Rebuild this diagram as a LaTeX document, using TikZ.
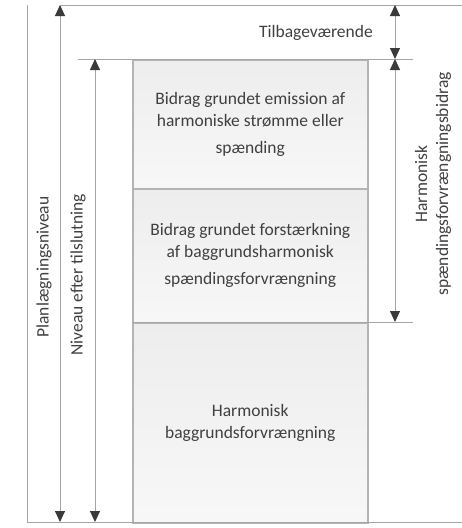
\documentclass[tikz,border=0pt]{standalone}
\usepackage{fontspec}
\setmainfont{Carlito}
\usetikzlibrary{arrows.meta}
\definecolor{txt}{HTML}{404040}
\definecolor{ln}{HTML}{A6A6A6}
\definecolor{bx}{HTML}{B4B4B4}
\definecolor{tip}{HTML}{3A3A3A}
\tikzset{
  lbl/.style={text=txt, font=\fontsize{17.5}{21}\selectfont, inner sep=0pt},
  guide/.style={draw=ln, line width=1pt},
  dim/.style={draw=ln, line width=1pt, {Triangle[length=11pt,width=10pt,color=tip]}-{Triangle[length=11pt,width=10pt,color=tip]}, shorten <=0pt, shorten >=0pt},
  block/.style={draw=bx, line width=1.5pt, top color=black!7, bottom color=black!3, minimum width=235pt, inner sep=0pt, text=txt, align=center, font=\fontsize{17.5}{22}\selectfont}
}
\begin{document}
\begin{tikzpicture}[x=1pt,y=-1pt]
\useasboundingbox (0,0) rectangle (462,528);
% blocks
\node[block, minimum height=129pt, anchor=north west] (b1) at (132,59) {Bidrag grundet emission af\\harmoniske strømme eller\\[5pt]spænding};
\node[block, minimum height=134pt, anchor=north west] (b2) at (132,188) {Bidrag grundet forstærkning\\af baggrundsharmonisk\\[5pt]spændingsforvrængning};
\node[block, minimum height=200pt, anchor=north west] (b3) at (132,322) {Harmonisk\\baggrundsforvrængning};
% guide lines
\coordinate (tl) at (60,5); \coordinate (tr) at (462,5);
\coordinate (lt) at (27,5); \coordinate (lb) at (27,522);
\coordinate (bl) at (27,522); \coordinate (br) at (462,522);
\coordinate (ml) at (78,59); \coordinate (mr) at (413,59);
\coordinate (ll) at (132,322); \coordinate (lr) at (413,322);
\draw[guide] (tl) -- (tr);
\draw[guide] (lt) -- (lb);
\draw[guide] (bl) -- (br);
\draw[guide] (ml) -- (mr);
\draw[guide] (ll) -- (lr);
% dimension arrows
\coordinate (a1t) at (60,5); \coordinate (a1b) at (60,522);
\coordinate (a2t) at (95,59); \coordinate (a2b) at (95,522);
\coordinate (a3t) at (395,5); \coordinate (a3b) at (395,59);
\coordinate (a4t) at (395,59); \coordinate (a4b) at (395,322);
\draw[dim] (a1t) -- (a1b);
\draw[dim] (a2t) -- (a2b);
\draw[dim] (a3t) -- (a3b);
\draw[dim] (a4t) -- (a4b);
% labels
\node[lbl, anchor=east] (tilb) at (373,33) {Tilbageværende};
\node[lbl, rotate=90] (plan) at (44,267) {Planlægningsniveau};
\node[lbl, rotate=90] (niv) at (78,275) {Niveau efter tilslutning};
\node[lbl, rotate=90, align=center] (harm) at (433,184) {Harmonisk\\spændingsforvrængningsbidrag};
\end{tikzpicture}
\end{document}
